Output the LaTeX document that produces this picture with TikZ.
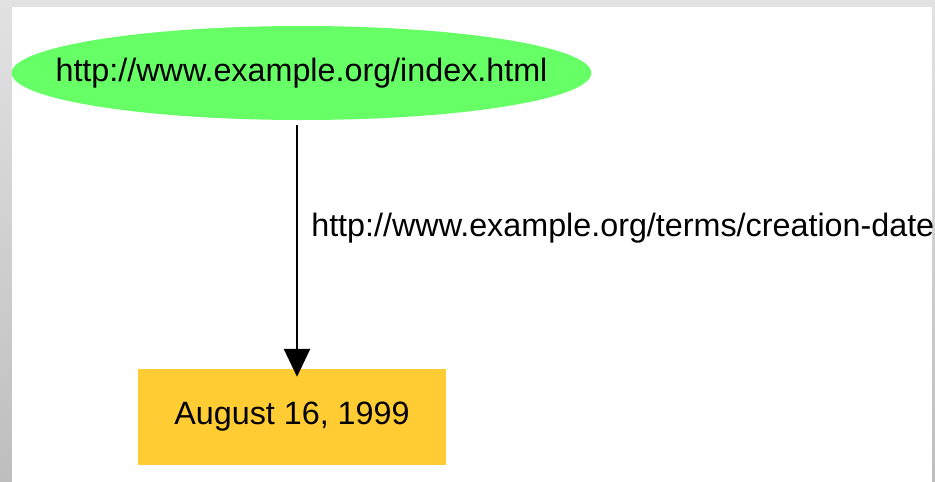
\documentclass[tikz,border=0pt]{standalone}
\usepackage{fontspec}
\setmainfont{Liberation Sans}
\usetikzlibrary{shapes.geometric, arrows.meta, positioning}
\definecolor{resgreen}{RGB}{102, 255, 102}
\definecolor{litorange}{RGB}{255, 204, 51}
\definecolor{frametop}{RGB}{226, 226, 226}
\definecolor{framebot}{RGB}{190, 190, 190}

\begin{document}
\begin{tikzpicture}[
    x=1pt, y=-1pt,
    every node/.style={font=\fontsize{32.3}{38}\selectfont},
    resource/.style={ellipse, fill=resgreen, minimum width=577pt, minimum height=94pt, inner xsep=-41pt, inner ysep=0pt},
    literal/.style={rectangle, fill=litorange, minimum width=308pt, minimum height=96pt, inner sep=0pt},
    arrow/.style={-{Triangle[length=28pt, width=26pt]}, line width=2.6pt}
]
% frame and page
\useasboundingbox (0,0) rectangle (935,482);
\shade[top color=frametop, bottom color=framebot] (0,0) rectangle (935,482);
\fill[white] (12,7) rectangle (932,482);
% nodes
\node[resource] (page) at (301.5,73) {http://www.example.org/index.html};
\node[literal] (date) at (292,417) {August 16, 1999};
% property
\draw[arrow] ([xshift=-4.5pt, yshift=-5pt]page.south) -- node[pos=0.41, right=13pt, inner sep=0pt] {http://www.example.org/terms/creation-date} ([xshift=-4.5pt, yshift=-8pt]page.south |- date.north);
\end{tikzpicture}
\end{document}
